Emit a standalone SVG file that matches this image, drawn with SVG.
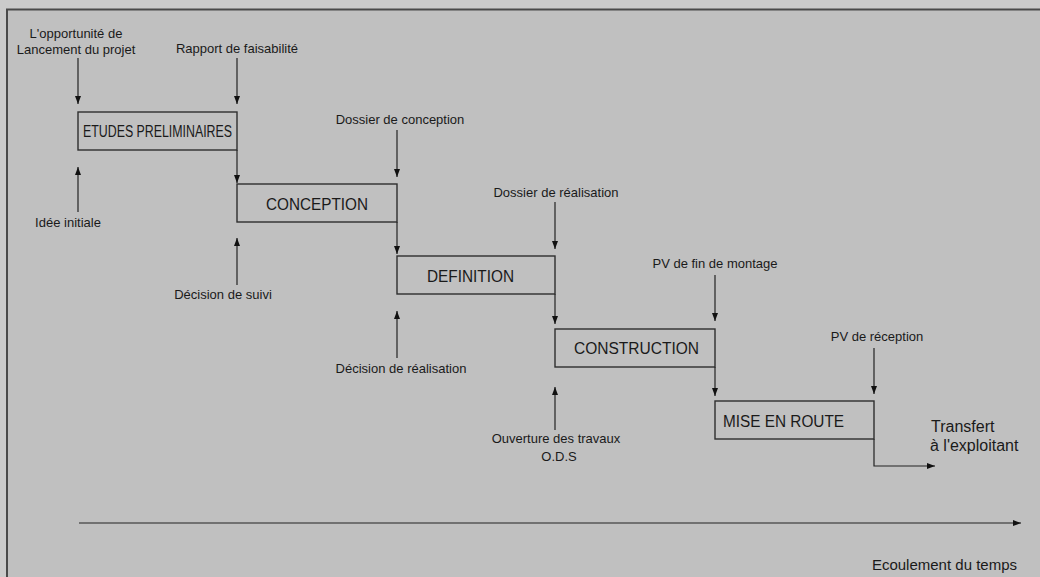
<svg xmlns="http://www.w3.org/2000/svg" width="1040" height="577" viewBox="0 0 1040 577">
  <style>
    .lbl { font-family: "Liberation Sans", Arial, sans-serif; font-size: 13px; fill: #1a1a1a; text-anchor: middle; }
    .big { font-family: "Liberation Sans", Arial, sans-serif; font-size: 16px; fill: #1a1a1a; }
    .box { fill: none; stroke: #2e2e2e; stroke-width: 1.4; }
    .wire { fill: none; stroke: #222; stroke-width: 1.2; }
  </style>
  <defs>
    <marker id="tip" viewBox="0 0 8 6" refX="8" refY="3" markerWidth="8" markerHeight="6" markerUnits="userSpaceOnUse" orient="auto">
      <path d="M0,0 L8,3 L0,6 Z" fill="#111"/>
    </marker>
  </defs>

  <!-- page background and frame -->
  <rect x="0" y="0" width="1040" height="577" fill="#cbcbcb"/>
  <rect x="7" y="9" width="1033" height="568" fill="#c0c0c0"/>
  <path d="M7,577 L7,9.5 L1040,9.5" fill="none" stroke="#4a4a4a" stroke-width="2"/>

  <!-- phases -->
  <g id="etudes">
    <rect class="box" x="78" y="112" width="159" height="38"/>
    <text class="big" x="83" y="137" font-size="12.5" textLength="149" lengthAdjust="spacingAndGlyphs">ETUDES PRELIMINAIRES</text>
  </g>
  <g id="conception">
    <rect class="box" x="237" y="184" width="160" height="38"/>
    <text class="big" x="266" y="210" textLength="102" lengthAdjust="spacingAndGlyphs">CONCEPTION</text>
  </g>
  <g id="definition">
    <rect class="box" x="397" y="256" width="158" height="38"/>
    <text class="big" x="427" y="282" textLength="87" lengthAdjust="spacingAndGlyphs">DEFINITION</text>
  </g>
  <g id="construction">
    <rect class="box" x="555" y="329" width="160" height="38"/>
    <text class="big" x="574" y="354" textLength="125" lengthAdjust="spacingAndGlyphs">CONSTRUCTION</text>
  </g>
  <g id="mise-en-route">
    <rect class="box" x="715" y="401" width="159" height="38"/>
    <text class="big" x="723" y="427" textLength="121" lengthAdjust="spacingAndGlyphs">MISE EN ROUTE</text>
  </g>

  <!-- milestone labels -->
  <g id="opportunite">
    <text class="lbl" x="76" y="38">L'opportunité de</text>
    <text class="lbl" x="76" y="54">Lancement du projet</text>
  </g>
  <g id="rapport"><text class="lbl" x="237" y="53">Rapport de faisabilité</text></g>
  <g id="idee"><text class="lbl" x="68" y="227">Idée initiale</text></g>
  <g id="dossier-conception"><text class="lbl" x="400" y="124">Dossier de conception</text></g>
  <g id="decision-suivi"><text class="lbl" x="223" y="299">Décision de suivi</text></g>
  <g id="dossier-realisation"><text class="lbl" x="556" y="197">Dossier de réalisation</text></g>
  <g id="decision-realisation"><text class="lbl" x="401" y="373">Décision de réalisation</text></g>
  <g id="pv-montage"><text class="lbl" x="715" y="268">PV de fin de montage</text></g>
  <g id="ouverture">
    <text class="lbl" x="556" y="443">Ouverture des travaux</text>
    <text class="lbl" x="559" y="461">O.D.S</text>
  </g>
  <g id="pv-reception"><text class="lbl" x="877" y="341">PV de réception</text></g>
  <g id="transfert">
    <text class="big" x="931" y="432">Transfert</text>
    <text class="big" x="930" y="451">à l'exploitant</text>
  </g>
  <g id="axe-label">
    <text class="lbl" x="1017" y="570" font-size="15" text-anchor="end" style="text-anchor:end;font-size:15px">Ecoulement du temps</text>
  </g>

  <!-- connectors -->
  <g id="connectors" class="wire">
    <!-- inputs from above -->
    <line x1="78" y1="58" x2="78" y2="104" marker-end="url(#tip)"/>
    <line x1="237" y1="58" x2="237" y2="104" marker-end="url(#tip)"/>
    <line x1="397" y1="130" x2="397" y2="177" marker-end="url(#tip)"/>
    <line x1="555" y1="202" x2="555" y2="249" marker-end="url(#tip)"/>
    <line x1="715" y1="275" x2="715" y2="321" marker-end="url(#tip)"/>
    <line x1="874" y1="348" x2="874" y2="394" marker-end="url(#tip)"/>
    <!-- decisions from below -->
    <line x1="78" y1="212" x2="78" y2="167" marker-end="url(#tip)"/>
    <line x1="237" y1="285" x2="237" y2="238" marker-end="url(#tip)"/>
    <line x1="397" y1="358" x2="397" y2="311" marker-end="url(#tip)"/>
    <line x1="555" y1="430" x2="555" y2="387" marker-end="url(#tip)"/>
    <!-- phase to phase -->
    <line x1="237" y1="150" x2="237" y2="183" marker-end="url(#tip)"/>
    <line x1="397" y1="222" x2="397" y2="254" marker-end="url(#tip)"/>
    <line x1="555" y1="294" x2="555" y2="324" marker-end="url(#tip)"/>
    <line x1="715" y1="367" x2="715" y2="396" marker-end="url(#tip)"/>
    <!-- handover -->
    <polyline points="874,439 874,466 935,466" marker-end="url(#tip)"/>
    <!-- time axis -->
    <line x1="79" y1="523" x2="1021" y2="523" marker-end="url(#tip)"/>
  </g>
</svg>
